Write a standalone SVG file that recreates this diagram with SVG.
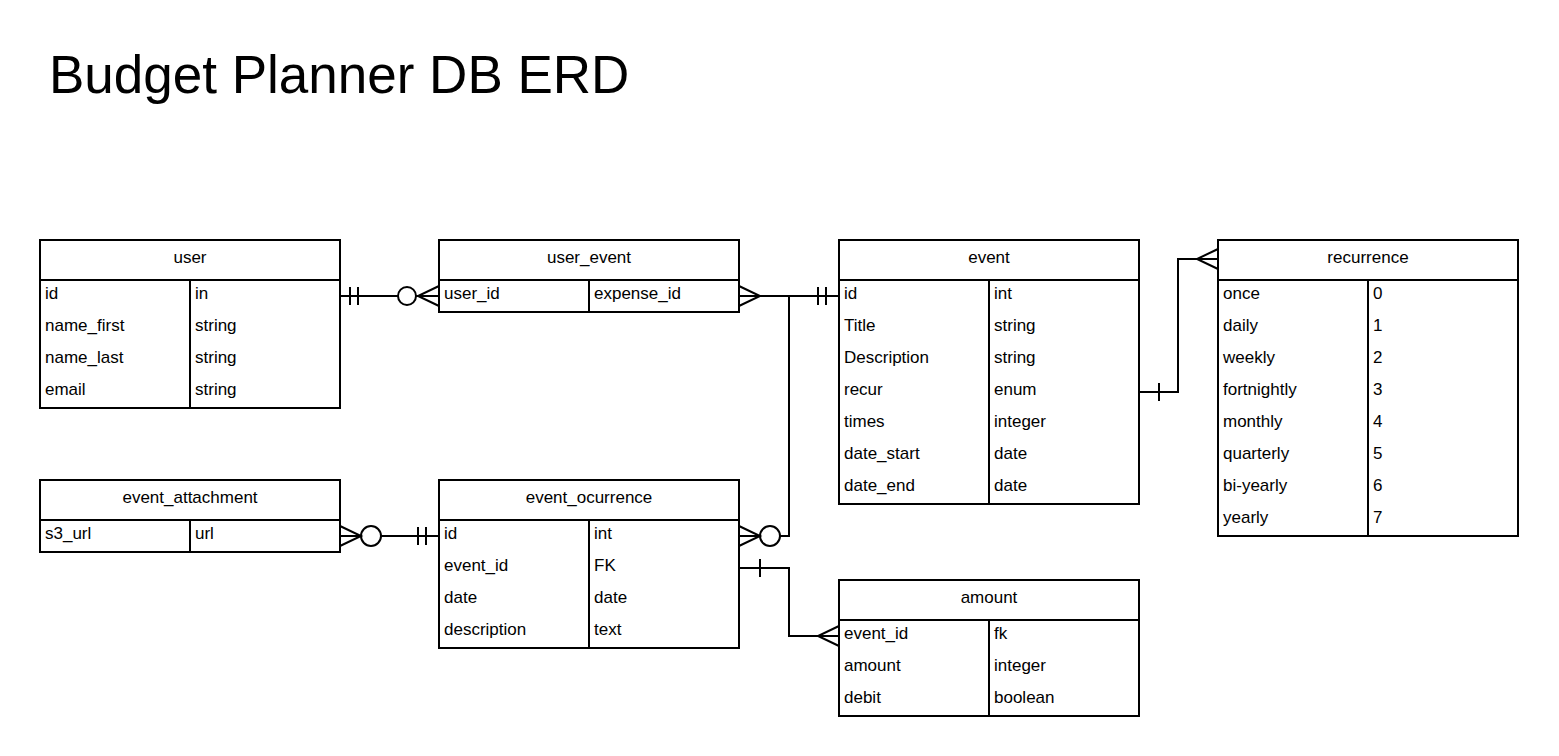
<svg xmlns="http://www.w3.org/2000/svg" width="1559" height="756" viewBox="0 0 1559 756">
<style>
.box{fill:#fff;stroke:#000;stroke-width:2}
.ln{fill:none;stroke:#000;stroke-width:2}
.h{font-family:"Liberation Sans",Arial,sans-serif;font-size:17px;text-anchor:middle;fill:#000}
.t{font-family:"Liberation Sans",Arial,sans-serif;font-size:17px;fill:#000}
.title{font-family:"Liberation Sans",Arial,sans-serif;font-size:53px;fill:#000}
</style>
<rect width="1559" height="756" fill="#fff"/>
<text class="title" x="49" y="93">Budget Planner DB ERD</text>

<g id="user">
<rect class="box" x="40" y="240" width="300" height="168"/>
<line class="ln" x1="40" y1="280" x2="340" y2="280"/>
<line class="ln" x1="190" y1="280" x2="190" y2="408"/>
<text class="h" x="190" y="263">user</text>
<text class="t" x="45" y="299">id</text><text class="t" x="195" y="299">in</text>
<text class="t" x="45" y="331">name_first</text><text class="t" x="195" y="331">string</text>
<text class="t" x="45" y="363">name_last</text><text class="t" x="195" y="363">string</text>
<text class="t" x="45" y="395">email</text><text class="t" x="195" y="395">string</text>
</g>

<g id="user_event">
<rect class="box" x="439" y="240" width="300" height="72"/>
<line class="ln" x1="439" y1="280" x2="739" y2="280"/>
<line class="ln" x1="589" y1="280" x2="589" y2="312"/>
<text class="h" x="589" y="263">user_event</text>
<text class="t" x="444" y="299">user_id</text><text class="t" x="594" y="299">expense_id</text>
</g>

<g id="event">
<rect class="box" x="839" y="240" width="300" height="264"/>
<line class="ln" x1="839" y1="280" x2="1139" y2="280"/>
<line class="ln" x1="989" y1="280" x2="989" y2="504"/>
<text class="h" x="989" y="263">event</text>
<text class="t" x="844" y="299">id</text><text class="t" x="994" y="299">int</text>
<text class="t" x="844" y="331">Title</text><text class="t" x="994" y="331">string</text>
<text class="t" x="844" y="363">Description</text><text class="t" x="994" y="363">string</text>
<text class="t" x="844" y="395">recur</text><text class="t" x="994" y="395">enum</text>
<text class="t" x="844" y="427">times</text><text class="t" x="994" y="427">integer</text>
<text class="t" x="844" y="459">date_start</text><text class="t" x="994" y="459">date</text>
<text class="t" x="844" y="491">date_end</text><text class="t" x="994" y="491">date</text>
</g>

<g id="recurrence">
<rect class="box" x="1218" y="240" width="300" height="296"/>
<line class="ln" x1="1218" y1="280" x2="1518" y2="280"/>
<line class="ln" x1="1368" y1="280" x2="1368" y2="536"/>
<text class="h" x="1368" y="263">recurrence</text>
<text class="t" x="1223" y="299">once</text><text class="t" x="1373" y="299">0</text>
<text class="t" x="1223" y="331">daily</text><text class="t" x="1373" y="331">1</text>
<text class="t" x="1223" y="363">weekly</text><text class="t" x="1373" y="363">2</text>
<text class="t" x="1223" y="395">fortnightly</text><text class="t" x="1373" y="395">3</text>
<text class="t" x="1223" y="427">monthly</text><text class="t" x="1373" y="427">4</text>
<text class="t" x="1223" y="459">quarterly</text><text class="t" x="1373" y="459">5</text>
<text class="t" x="1223" y="491">bi-yearly</text><text class="t" x="1373" y="491">6</text>
<text class="t" x="1223" y="523">yearly</text><text class="t" x="1373" y="523">7</text>
</g>

<g id="event_attachment">
<rect class="box" x="40" y="480" width="300" height="72"/>
<line class="ln" x1="40" y1="520" x2="340" y2="520"/>
<line class="ln" x1="190" y1="520" x2="190" y2="552"/>
<text class="h" x="190" y="503">event_attachment</text>
<text class="t" x="45" y="539">s3_url</text><text class="t" x="195" y="539">url</text>
</g>

<g id="event_ocurrence">
<rect class="box" x="439" y="480" width="300" height="168"/>
<line class="ln" x1="439" y1="520" x2="739" y2="520"/>
<line class="ln" x1="589" y1="520" x2="589" y2="648"/>
<text class="h" x="589" y="503">event_ocurrence</text>
<text class="t" x="444" y="539">id</text><text class="t" x="594" y="539">int</text>
<text class="t" x="444" y="571">event_id</text><text class="t" x="594" y="571">FK</text>
<text class="t" x="444" y="603">date</text><text class="t" x="594" y="603">date</text>
<text class="t" x="444" y="635">description</text><text class="t" x="594" y="635">text</text>
</g>

<g id="amount">
<rect class="box" x="839" y="580" width="300" height="136"/>
<line class="ln" x1="839" y1="620" x2="1139" y2="620"/>
<line class="ln" x1="989" y1="620" x2="989" y2="716"/>
<text class="h" x="989" y="603">amount</text>
<text class="t" x="844" y="639">event_id</text><text class="t" x="994" y="639">fk</text>
<text class="t" x="844" y="671">amount</text><text class="t" x="994" y="671">integer</text>
<text class="t" x="844" y="703">debit</text><text class="t" x="994" y="703">boolean</text>
</g>

<g id="connectors">
<!-- user - user_event -->
<line class="ln" x1="340" y1="296" x2="398" y2="296"/>
<line class="ln" x1="350" y1="287" x2="350" y2="305"/>
<line class="ln" x1="358" y1="287" x2="358" y2="305"/>
<circle class="ln" cx="407" cy="296" r="9" fill="#fff"/>
<line class="ln" x1="416" y1="296" x2="439" y2="296"/>
<path class="ln" d="M439 286 L418 296 L439 306"/>
<!-- user_event - event -->
<line class="ln" x1="739" y1="296" x2="839" y2="296"/>
<path class="ln" d="M739 286 L760 296 L739 306"/>
<line class="ln" x1="818" y1="287" x2="818" y2="305"/>
<line class="ln" x1="826" y1="287" x2="826" y2="305"/>
<!-- event - event_ocurrence -->
<path class="ln" d="M789 296 L789 536 L780 536"/>
<circle class="ln" cx="770" cy="536" r="10" fill="#fff"/>
<line class="ln" x1="739" y1="536" x2="760" y2="536"/>
<path class="ln" d="M739 526 L760 536 L739 546"/>
<!-- event - recurrence -->
<path class="ln" d="M1139 392 L1178 392 L1178 259 L1218 259"/>
<line class="ln" x1="1159" y1="383" x2="1159" y2="401"/>
<path class="ln" d="M1218 249 L1197 259 L1218 269"/>
<!-- event_attachment - event_ocurrence -->
<line class="ln" x1="340" y1="536" x2="360" y2="536"/>
<path class="ln" d="M340 526 L361 536 L340 546"/>
<circle class="ln" cx="371" cy="536" r="10" fill="#fff"/>
<line class="ln" x1="381" y1="536" x2="439" y2="536"/>
<line class="ln" x1="418" y1="527" x2="418" y2="545"/>
<line class="ln" x1="426" y1="527" x2="426" y2="545"/>
<!-- event_ocurrence - amount -->
<path class="ln" d="M739 568 L789 568 L789 636 L839 636"/>
<line class="ln" x1="760" y1="559" x2="760" y2="577"/>
<path class="ln" d="M839 626 L818 636 L839 646"/>
</g>
</svg>
